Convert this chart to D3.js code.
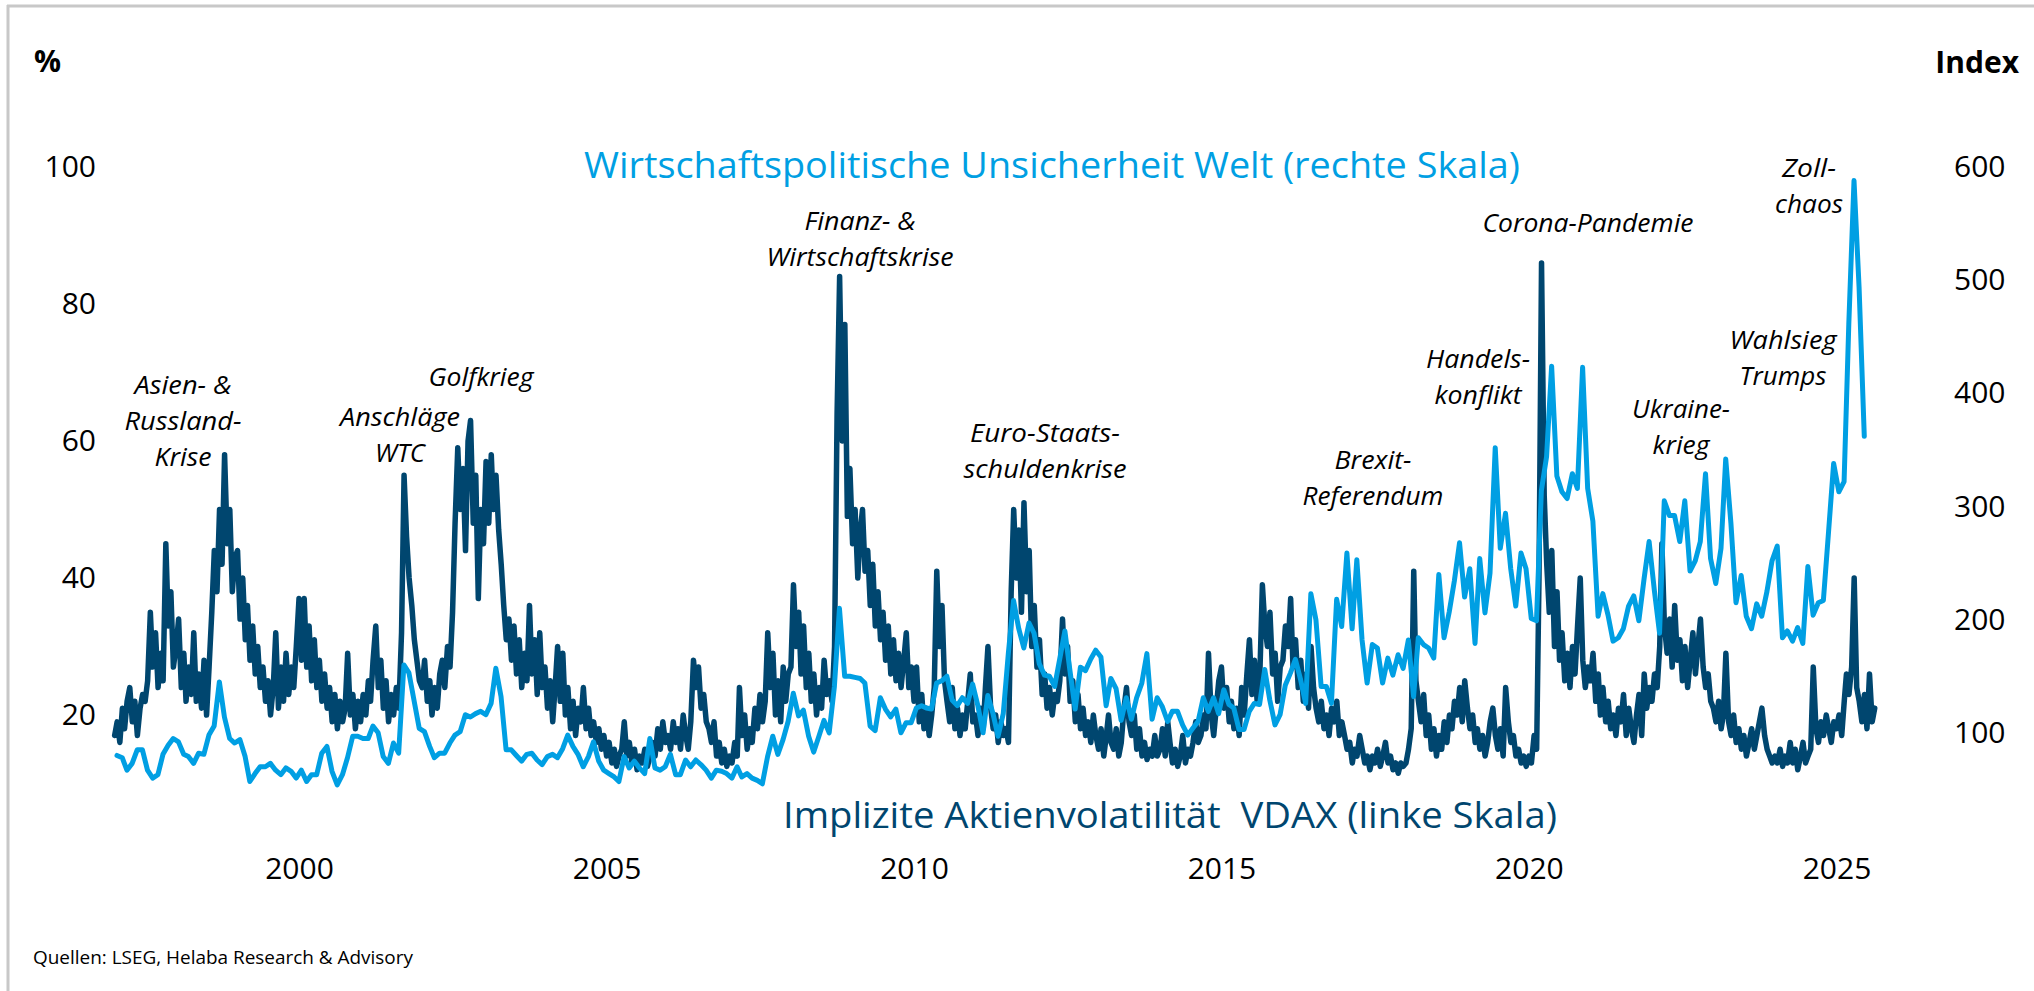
<!DOCTYPE html>
<html><head><meta charset="utf-8">
<script src="https://cdn.jsdelivr.net/npm/d3@7"></script>
<style>
html,body{margin:0;padding:0;background:#fff;}
svg{display:block;}
text{font-family:"Open Sans","Noto Sans","DejaVu Sans",sans-serif;}
</style></head><body>
<svg id="chart" width="2034" height="991"></svg>
<script>
// ---------- DATA ----------
// Global economic policy uncertainty index (monthly, from Jan 1997), right scale
const epuStartYear = 1997;
const epu = [
 80, 78, 67, 73, 85, 85, 67, 60, 63, 81, 89, 95,
 92, 81, 79, 73, 82, 81, 98,106,145,114, 95, 91,
 94, 79, 57, 64, 70, 70, 73, 67, 63, 69, 66, 60,
 67, 57, 63, 63, 82, 88, 66, 54, 63, 78, 97, 97,
 95, 95,106,100, 79, 73, 91, 82,160,153,128,104,
101, 88, 78, 82, 82, 91, 98,101,116,114,117,119,
116,126,157,132, 85, 85, 80, 75, 81, 82, 76, 72,
 79, 81, 78, 86, 98, 88, 81, 70, 79, 92, 75, 67,
 64, 61, 57, 79, 69, 75, 69, 64, 95, 69, 67, 70,
 81, 63, 63, 76, 70, 76, 72, 67, 60, 67, 66, 64,
 60, 70, 61, 64, 60, 58, 55, 79, 97, 81, 94,110,
135,115,120, 97, 83, 97,111,100,141,210,150,150,
149,148,144,106,102,131,121,114,121,100,109,109,
122,124,122,121,144,146,150,129,124,131,126,143,
124,100,133,117, 97,117,170,217,192,175,197,188,
161,151,150,141,165,190,155,121,158,155,165,173,
167,124,148,139,111,131,112,131,144,170,112,131,
123,110,119,119,107, 98,104,110,131,119,131,117,
138,125,122,103,103,119,126,125,156,129,107,116,
142,153,165,147,126,223,200,141,141,126,218,194,
259,192,253,182,144,178,175,144,166,151,169,157,
182,132,184,178,175,166,240,184,207,234,268,220,
245,179,254,206,241,352,263,294,245,212,259,245,
201,199,314,344,424,327,313,307,329,316,423,316,
287,203,223,204,181,184,192,212,221,199,236,269,
226,188,305,292,292,269,305,243,252,269,329,254,
232,263,342,285,215,239,203,192,214,203,225,252,
265,184,190,181,193,179,247,204,215,217,278,338,
313,322,461,588,494,362
];

// VDAX implied volatility (two readings per month: 1st and 16th, from Jan 1997), left scale
const vdaxStartYear = 1997;
const vdax = [
 17,19,16,21,18,22,24,19,22,17,21,23,22,25,35,27,32,24,29,25,45,33,38,27,
 30,34,24,29,22,27,23,32,22,26,21,28,20,27,35,44,38,50,42,58,45,50,38,43,
 44,34,40,31,36,28,33,26,30,24,27,22,25,20,24,32,21,27,22,29,23,27,24,30,
 37,28,37,27,33,25,31,24,28,22,26,21,24,19,23,18,22,19,21,29,20,23,18,22,
 19,23,20,25,22,28,33,24,28,21,25,19,23,20,24,21,32,55,46,40,36,31,28,25,
 24,28,22,25,20,24,21,26,28,24,30,27,35,48,59,50,56,44,60,63,48,55,37,50,
 45,57,48,58,50,55,47,42,36,31,34,28,33,26,31,24,29,25,36,26,31,23,32,24,
 27,21,25,19,24,30,22,29,20,24,18,22,17,21,19,24,18,21,17,19,16,18,15,17,
 14,16,13,15,12.5,14,15,19,14,16,13,15,12,14,13,15,12.5,14,16,14,18,15,19,16,
 17,15,19,16,18,15,20,17,15,19,28,24,27,21,23,19,18,16,19,14,16,13,15,12.5,
 14,13,16,14,24,17,20,15,18,16,21,18,23,19,22,32,24,29,20,25,19,27,22,26,
 27,39,30,35,26,33,24,29,22,26,20,24,21,28,23,25,22,30,64,84,60,77,49,56,
 45,50,40,47,50,41,44,36,42,33,38,31,35,28,33,26,31,25,29,24,28,32,24,27,
 22,27,19,23,18,21,17,20,24,41,30,36,25,22,19,24,18,21,17,20,18,22,26,19,
 20,17,21,18,24,30,21,18,20,16,19,17,18,16,38,50,40,47,35,51,38,44,30,36,
 27,31,23,26,21,24,20,23,22,25,34,26,30,22,25,19,23,18,21,17,19,16,20,17,
 15,18,14,17,20,16,15,18,14,16,21,24,19,17,20,15,18,14,16,13.5,15,14,17,14,
 15,18,14,19,16,13,15,12.5,14,17,13,15,14,16,19,16,17,20,18,29,20,17,21,25,
 27,21,24,19,22,18,21,17,24,20,26,31,23,28,22,25,39,33,30,35,26,29,22,27,
 28,33,30,37,27,31,24,28,22,26,21,30,24,21,19,22,18,20,17,21,19,22,17,19,
 17,15,16,13,15,14,17,15,13,14,12,14,13,15,12.5,14,16,13,14,12,13,11.5,13,12.5,
 13,15,18,41,25,22,19,23,17,20,15,18,14,17,15,19,16,20,18,22,20,24,19,25,
 21,18,20,16,18,15,17,14,16,19,21,17,15,18,14,24,19,16,17,14,15,13,14,12.5,
 14,13,17,15,40,86,52,42,35,44,30,38,28,32,25,29,24,30,26,33,40,28,24,27,
 25,29,22,26,20,24,19,22,18,20,17,21,19,23,17,21,18,16,20,23,17,26,21,24,
 22,26,24,30,45,33,29,34,27,36,28,31,25,30,24,28,32,26,30,34,27,24,26,22,
 21,19,22,18,20,29,19,17,20,16,18,15,17,14,16,18,15,17,19,21,17,15,14,13,
 14,13,15,12.5,14,13,16,13,15,12,14,16,13,14,15,27,18,16,19,17,20,18,16,19,
 18,20,17,22,26,23,27,40,24,22,19,23,18,26,19,21
];

const leftTicks = [20, 40, 60, 80, 100];
const rightTicks = [100, 200, 300, 400, 500, 600];
const yearTicks = [2000, 2005, 2010, 2015, 2020, 2025];

const epuLabel = "Wirtschaftspolitische Unsicherheit Welt (rechte Skala)";
const vdaxLabel = "Implizite Aktienvolatilität  VDAX (linke Skala)";
const leftUnit = "%";
const rightUnit = "Index";
const sourceText = "Quellen: LSEG, Helaba Research & Advisory";

const eventLabels = [
  ["Asien- &", "Russland-", "Krise"],
  ["Anschläge", "WTC"],
  ["Golfkrieg"],
  ["Finanz- &", "Wirtschaftskrise"],
  ["Euro-Staats-", "schuldenkrise"],
  ["Brexit-", "Referendum"],
  ["Handels-", "konflikt"],
  ["Corona-Pandemie"],
  ["Ukraine-", "krieg"],
  ["Wahlsieg", "Trumps"],
  ["Zoll-", "chaos"]
];

// ---------- LAYOUT ----------
const W = 2034, H = 991;
const darkBlue = "#00466f", lightBlue = "#009fe3";
const svg = d3.select("#chart");

const x = d3.scaleTime()
  .domain([new Date(2000, 0, 1), new Date(2025, 0, 1)])
  .range([299, 1836.5]);
const yL = d3.scaleLinear().domain([0, 100]).range([852, 167]);
const yR = d3.scaleLinear().domain([0, 600]).range([846, 167]);

// frame
svg.append("line").attr("x1", 7).attr("x2", W).attr("y1", 6).attr("y2", 6)
  .attr("stroke", "#c8c8c8").attr("stroke-width", 3);
svg.append("line").attr("x1", 8).attr("x2", 8).attr("y1", 5).attr("y2", H)
  .attr("stroke", "#c8c8c8").attr("stroke-width", 3);

// axes
const axL = svg.append("g").attr("transform", "translate(96,0)")
  .call(d3.axisLeft(yL).tickValues(leftTicks).tickSize(0).tickPadding(0));
const axR = svg.append("g").attr("transform", "translate(1954,0)")
  .call(d3.axisRight(yR).tickValues(rightTicks).tickSize(0).tickPadding(0));
const axB = svg.append("g").attr("transform", "translate(0,858)")
  .call(d3.axisBottom(x).tickValues(yearTicks.map(y => new Date(y, 0, 1)))
    .tickFormat(d3.timeFormat("%Y")).tickSize(0).tickPadding(0));
[axL, axR, axB].forEach(g => {
  g.select(".domain").remove();
  g.selectAll("text").attr("font-size", 30).attr("fill", "#000")
    .style("font-family", '"Open Sans","Noto Sans",sans-serif');
});

// units
svg.append("text").attr("x", 34).attr("y", 72).text(leftUnit)
  .attr("font-size", 30).attr("font-weight", "bold").attr("fill", "#000");
svg.append("text").attr("x", 2019).attr("y", 73).attr("text-anchor", "end").text(rightUnit)
  .attr("font-size", 30).attr("font-weight", "bold").attr("fill", "#000");

// series
const vdaxData = vdax.map((v, i) => ({
  date: new Date(vdaxStartYear + Math.floor(i / 24), Math.floor((i % 24) / 2), (i % 2) ? 16 : 1),
  v
}));
const epuData = epu.map((v, i) => ({
  date: new Date(epuStartYear, i, 15), v
}));

svg.append("path").datum(vdaxData)
  .attr("fill", "none").attr("stroke", darkBlue).attr("stroke-width", 5.5)
  .attr("stroke-linejoin", "round").attr("stroke-linecap", "round")
  .attr("d", d3.line().x(d => x(d.date)).y(d => yL(d.v)));
svg.append("path").datum(epuData)
  .attr("fill", "none").attr("stroke", lightBlue).attr("stroke-width", 5)
  .attr("stroke-linejoin", "round").attr("stroke-linecap", "round")
  .attr("d", d3.line().x(d => x(d.date)).y(d => yR(d.v)));

// series labels
function fitText(sel, w) {
  sel.attr("textLength", w).attr("lengthAdjust", "spacingAndGlyphs");
}
svg.append("text").attr("x", 584).attr("y", 178).text(epuLabel)
  .attr("font-size", 36).attr("fill", lightBlue).call(fitText, 936);
svg.append("text").attr("x", 783).attr("y", 828).text(vdaxLabel)
  .style("white-space", "pre")
  .attr("font-size", 36).attr("fill", darkBlue).call(fitText, 774);

// event annotations: [centre x, first baseline, widths]
const eventPos = [
  [183, 394, [97, 117, 57]],
  [400, 426, [120, 50]],
  [481, 386, [105]],
  [860, 230, [111, 187]],
  [1045, 442, [150, 163]],
  [1373, 469, [77, 141]],
  [1478, 368, [104, 87]],
  [1588, 232, [211]],
  [1681, 418, [98, 57]],
  [1783, 349, [107, 87]],
  [1809, 177, [54, 68]]
];
eventLabels.forEach((lines, i) => {
  const [cx, by, ws] = eventPos[i];
  lines.forEach((t, j) => {
    svg.append("text").attr("x", cx).attr("y", by + j * 36)
      .attr("text-anchor", "middle").attr("font-size", 26)
      .attr("font-style", "italic").attr("fill", "#000")
      .text(t).call(fitText, ws[j]);
  });
});

// source
svg.append("text").attr("x", 33).attr("y", 964).text(sourceText)
  .attr("font-size", 19).attr("fill", "#000").call(fitText, 380);
</script>
</body></html>
